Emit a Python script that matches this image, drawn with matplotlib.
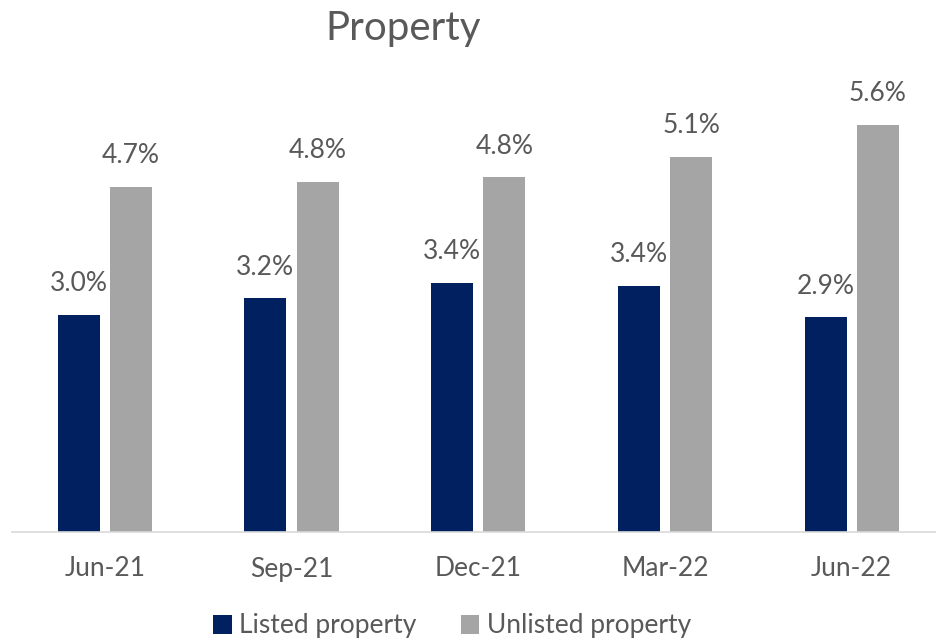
import numpy as np
import matplotlib
matplotlib.use("Agg")
import matplotlib.pyplot as plt

plt.rcParams['font.family'] = ['Lato', 'DejaVu Sans']

# data (% values, labels rounded to 1 dp)
categories = ["Jun-21", "Sep-21", "Dec-21", "Mar-22", "Jun-22"]
listed = [2.96, 3.19, 3.40, 3.36, 2.93]
unlisted = [4.71, 4.78, 4.84, 5.12, 5.56]
series_names = ["Listed property", "Unlisted property"]

navy = "#002060"
grey = "#A5A5A5"
txt = "#595959"

fig = plt.figure(figsize=(9.36, 6.42), dpi=100)
ax = fig.add_axes([11.5 / 936, 1 - 531.5 / 642, 933.5 / 936, 438.9 / 642])

x = np.arange(len(categories))
w = 0.225
off = 0.14
b1 = ax.bar(x - off, listed, w, color=navy, label=series_names[0])
b2 = ax.bar(x + off, unlisted, w, color=grey, label=series_names[1])

# value labels above each bar
for bars, vals in [(b1, listed), (b2, unlisted)]:
    for r, v in zip(bars, vals):
        ax.annotate(f"{v:.1f}%", (r.get_x() + r.get_width() / 2, r.get_height()),
                    xytext=(0, 17), textcoords="offset points",
                    ha="center", va="baseline", fontsize=19, color=txt,
                    annotation_clip=False)

ax.set_xlim(-0.5, len(categories) - 0.5)
ax.set_ylim(0, 6)
ax.set_xticks(x)
ax.set_xticklabels(categories, fontsize=19, color=txt)
ax.tick_params(axis="x", length=0, pad=18)
ax.set_yticks([])
for s in ["top", "right", "left"]:
    ax.spines[s].set_visible(False)
ax.spines["bottom"].set_color("#D9D9D9")
ax.spines["bottom"].set_linewidth(1.2)

fig.text(403 / 936, 1 - 40 / 642, "Property", ha="center", va="baseline",
         fontsize=29, color=txt)

leg = fig.legend(handles=[b1, b2], loc="center", bbox_to_anchor=(452 / 936, 1 - 626 / 642),
                 ncol=2, frameon=False, fontsize=19, handlelength=0.7, handleheight=0.75,
                 handletextpad=0.27, columnspacing=1.7, borderpad=0)
for t in leg.get_texts():
    t.set_color(txt)

fig.savefig("out.png", dpi=100)
